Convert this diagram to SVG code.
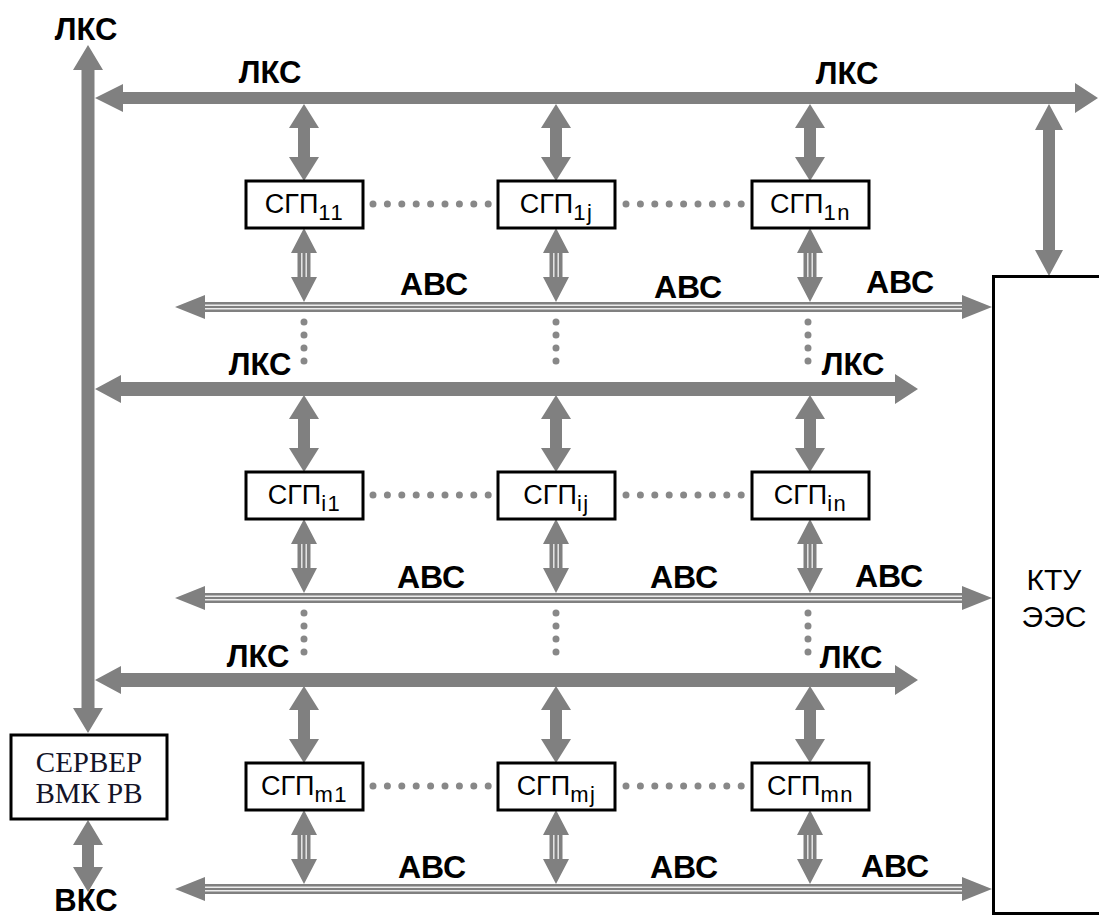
<svg xmlns="http://www.w3.org/2000/svg" xmlns:xlink="http://www.w3.org/1999/xlink" width="1099" height="916" viewBox="0 0 1099 916">
<style>
.g{fill:#808080}
.wl{stroke:#ececec;stroke-width:1.4;fill:none}
.box{fill:#fff;stroke:#000;stroke-width:3}
.lbl{font-family:"Liberation Sans",Arial,sans-serif;font-weight:bold;font-size:31px;fill:#000;text-anchor:middle}
.abc{font-size:32px}
.sgp{font-family:"Liberation Sans",Arial,sans-serif;font-size:27px;fill:#000;text-anchor:middle}
.sub{font-size:22px;letter-spacing:1.5px}
.srv{font-family:"Liberation Serif","Times New Roman",serif;font-size:29px;fill:#141428;text-anchor:middle}
.ktu{font-family:"Liberation Sans",Arial,sans-serif;font-size:30px;fill:#000;text-anchor:middle}
.dot{stroke:#888;stroke-width:7;stroke-linecap:round;fill:none}
.dh{stroke-dasharray:0 14.4}
.dv{stroke-dasharray:0 13}
</style>
<defs>
<polygon id="dbl" class="g" points="0,0 15,24 6,24 6,53 15,53 0,77 -15,53 -6,53 -6,24 -15,24"/>
<g id="tri">
<polygon class="g" points="0,0 13,25 6.5,25 6.5,49 13,49 0,74 -13,49 -6.5,49 -6.5,25 -13,25"/>
<line class="wl" x1="-2.2" y1="25" x2="-2.2" y2="49"/>
<line class="wl" x1="2.2" y1="25" x2="2.2" y2="49"/>
</g>
<g id="abcbus">
<polygon class="g" points="175,0 205,-12 205,-5 962,-5 962,-12 992,0 962,12 962,5 205,5 205,12"/>
<line class="wl" x1="205" y1="-1.7" x2="962" y2="-1.7"/>
<line class="wl" x1="205" y1="1.7" x2="962" y2="1.7"/>
</g>
<polygon id="lks" class="g" points="95,0 121,-14 121,-7 895,-7 895,-15 918,0 895,15 895,7 121,7 121,14"/>
</defs>

<g id="connectors">
<polygon class="g" points="88,45 103,70 94.5,70 94.5,708 103,708 88,733 73,708 81.5,708 81.5,70 73,70"/>
<polygon class="g" points="95,98 123,84 123,92 1075,92 1075,83 1098,98 1075,113 1075,104 123,104 123,112"/>
<use xlink:href="#lks" y="389"/>
<use xlink:href="#lks" y="680"/>
<use xlink:href="#abcbus" y="307"/>
<use xlink:href="#abcbus" y="598"/>
<use xlink:href="#abcbus" y="889"/>
<use xlink:href="#dbl" x="304" y="104"/>
<use xlink:href="#dbl" x="556" y="104"/>
<use xlink:href="#dbl" x="810" y="104"/>
<use xlink:href="#dbl" x="304" y="395"/>
<use xlink:href="#dbl" x="556" y="395"/>
<use xlink:href="#dbl" x="810" y="395"/>
<use xlink:href="#dbl" x="304" y="686"/>
<use xlink:href="#dbl" x="556" y="686"/>
<use xlink:href="#dbl" x="810" y="686"/>
<use xlink:href="#tri" x="304" y="228"/>
<use xlink:href="#tri" x="556" y="228"/>
<use xlink:href="#tri" x="810" y="228"/>
<use xlink:href="#tri" x="304" y="519"/>
<use xlink:href="#tri" x="556" y="519"/>
<use xlink:href="#tri" x="810" y="519"/>
<use xlink:href="#tri" x="304" y="810"/>
<use xlink:href="#tri" x="556" y="810"/>
<use xlink:href="#tri" x="810" y="810"/>
<polygon class="g" points="1049,104 1063,130 1055,130 1055,250 1063,250 1049,276 1035,250 1043,250 1043,130 1035,130"/>
<polygon class="g" points="88,820 103,845 94,845 94,867 103,867 88,892 73,867 82,867 82,845 73,845"/>
<line class="dot dh" x1="373" y1="204" x2="488.2" y2="204"/>
<line class="dot dh" x1="626" y1="204" x2="741.2" y2="204"/>
<line class="dot dh" x1="373" y1="495" x2="488.2" y2="495"/>
<line class="dot dh" x1="626" y1="495" x2="741.2" y2="495"/>
<line class="dot dh" x1="373" y1="786" x2="488.2" y2="786"/>
<line class="dot dh" x1="626" y1="786" x2="741.2" y2="786"/>
<line class="dot dv" x1="304" y1="322" x2="304" y2="374"/>
<line class="dot dv" x1="556" y1="322" x2="556" y2="374"/>
<line class="dot dv" x1="808" y1="322" x2="808" y2="374"/>
<line class="dot dv" x1="304" y1="613" x2="304" y2="665"/>
<line class="dot dv" x1="556" y1="613" x2="556" y2="665"/>
<line class="dot dv" x1="808" y1="613" x2="808" y2="665"/>
</g>

<g id="labels">
<text class="lbl" x="86" y="40">ЛКС</text>
<text class="lbl" x="270" y="83">ЛКС</text>
<text class="lbl" x="847" y="84">ЛКС</text>
<text class="lbl" x="260" y="375">ЛКС</text>
<text class="lbl" x="853" y="375">ЛКС</text>
<text class="lbl" x="258" y="667">ЛКС</text>
<text class="lbl" x="851" y="668">ЛКС</text>
<text class="lbl abc" x="434" y="295">АВС</text>
<text class="lbl abc" x="688" y="298">АВС</text>
<text class="lbl abc" x="900" y="293">АВС</text>
<text class="lbl abc" x="431" y="588">АВС</text>
<text class="lbl abc" x="684" y="588">АВС</text>
<text class="lbl abc" x="889" y="587">АВС</text>
<text class="lbl abc" x="432" y="878">АВС</text>
<text class="lbl abc" x="684" y="878">АВС</text>
<text class="lbl abc" x="895" y="877">АВС</text>
<text class="lbl" x="86" y="911">ВКС</text>
</g>

<g id="sgp-11"><rect class="box" x="246" y="181" width="117" height="47"/><text class="sgp" x="304.5" y="213">СГП<tspan class="sub" dy="7">11</tspan></text></g>
<g id="sgp-1j"><rect class="box" x="498" y="181" width="117" height="47"/><text class="sgp" x="556.5" y="213">СГП<tspan class="sub" dy="7">1j</tspan></text></g>
<g id="sgp-1n"><rect class="box" x="752" y="181" width="117" height="47"/><text class="sgp" x="810.5" y="213">СГП<tspan class="sub" dy="7">1n</tspan></text></g>
<g id="sgp-i1"><rect class="box" x="246" y="472" width="117" height="47"/><text class="sgp" x="304.5" y="504">СГП<tspan class="sub" dy="7">i1</tspan></text></g>
<g id="sgp-ij"><rect class="box" x="498" y="472" width="117" height="47"/><text class="sgp" x="556.5" y="504">СГП<tspan class="sub" dy="7">ij</tspan></text></g>
<g id="sgp-in"><rect class="box" x="752" y="472" width="117" height="47"/><text class="sgp" x="810.5" y="504">СГП<tspan class="sub" dy="7">in</tspan></text></g>
<g id="sgp-m1"><rect class="box" x="246" y="763" width="117" height="47"/><text class="sgp" x="304.5" y="795">СГП<tspan class="sub" dy="7">m1</tspan></text></g>
<g id="sgp-mj"><rect class="box" x="498" y="763" width="117" height="47"/><text class="sgp" x="556.5" y="795">СГП<tspan class="sub" dy="7">mj</tspan></text></g>
<g id="sgp-mn"><rect class="box" x="752" y="763" width="117" height="47"/><text class="sgp" x="810.5" y="795">СГП<tspan class="sub" dy="7">mn</tspan></text></g>

<g id="server"><rect class="box" x="11" y="735" width="156" height="84"/><text class="srv" x="89" y="772">СЕРВЕР</text><text class="srv" x="89" y="803">ВМК РВ</text></g>

<g id="ktu"><rect class="box" x="993.5" y="276.5" width="110" height="637"/><text class="ktu" x="1054" y="590">КТУ</text><text class="ktu" x="1054" y="627">ЭЭС</text></g>
</svg>
